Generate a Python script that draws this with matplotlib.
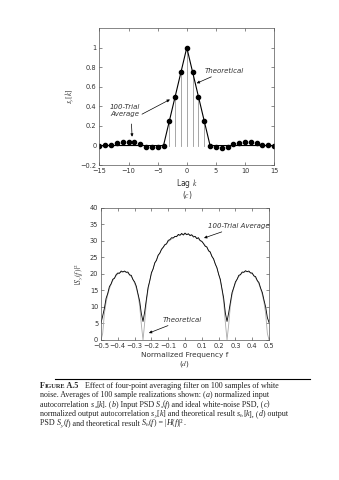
import numpy as np
import matplotlib.pyplot as plt

# (c) normalized output autocorrelation
lags = list(range(-15, 16))
avg_acf = [0.0, 0.005, 0.01, 0.025, 0.04, 0.04, 0.035, 0.015, -0.015, -0.02, -0.02,
           0.0, 0.25, 0.5, 0.75, 1.0, 0.75, 0.5, 0.25, -0.005,
           -0.015, -0.025, -0.015, 0.015, 0.03, 0.035, 0.035, 0.025, 0.01, 0.005, 0.0]
theo_acf = [0, 0, 0, 0, 0, 0, 0, 0, 0, 0, 0, 0, 0.25, 0.5, 0.75, 1.0, 0.75, 0.5, 0.25,
            0, 0, 0, 0, 0, 0, 0, 0, 0, 0, 0, 0]
stem_lags = [-3, -2, -1, 0, 1, 2, 3]

# (d) output PSD, positive half f = 0 .. 0.5 step 0.01
theo_half = [32.1, 32.06, 32.0, 31.9, 31.7, 31.5, 31.3, 31.0, 30.6, 30.2, 29.8,
             29.3, 28.7, 28.0, 27.3, 26.4, 25.5, 24.4, 23.2, 21.7, 20.0,
             17.9, 15.2, 11.5, 5.3, 0.0, 4.7, 10.4, 13.6, 15.7, 17.2,
             18.4, 19.2, 19.8, 20.3, 20.6, 20.7, 20.7, 20.6, 20.4, 20.0,
             19.5, 18.8, 18.0, 16.9, 15.5, 13.7, 11.4, 8.0, 2.0, 0.0]
freqs = [round(-0.5 + 0.01 * i, 2) for i in range(101)]
theo_psd = theo_half[:0:-1] + theo_half
avg_psd = [5.2, 7.3, 9.6, 12.6, 14.1, 16.2, 17.0, 18.4, 18.7, 19.8, 20.3,
           20.2, 20.9, 20.6, 20.9, 20.5, 20.6, 19.7, 19.6, 18.3, 17.6,
           16.3, 14.0, 11.8, 8.0, 5.6, 8.6, 12.3, 15.9, 17.9, 20.4,
           21.5, 23.4, 24.1, 25.7, 26.3, 27.5, 28.1, 28.9, 29.1, 30.2,
           30.4, 31.0, 30.9, 31.4, 31.3, 32.0, 31.7, 32.3, 31.8, 32.4,
           31.9, 32.2, 31.6, 31.9, 31.2, 31.4, 30.7, 31.0, 30.1, 29.9,
           29.2, 28.4, 28.2, 27.0, 26.7, 25.3, 24.6, 23.0, 21.9, 19.9,
           18.4, 15.5, 12.7, 8.2, 5.6, 8.3, 11.4, 14.4, 15.9, 17.6,
           18.4, 19.6, 19.8, 20.6, 20.5, 21.0, 20.7, 20.9, 20.3, 20.3,
           19.4, 19.2, 18.0, 17.4, 15.7, 14.4, 12.1, 10.0, 6.8, 5.3]

# caption pieces: (text, kind) with kind n=normal, i=italic, s=subscript, c=small caps, b=bold
caption = [
    [("F", "b"), ("IGURE", "c"), (" A.5", "b"),
     ("   Effect of four-point averaging filter on 100 samples of white", "n")],
    [("noise. Averages of 100 sample realizations shown: (", "n"), ("a", "i"),
     (") normalized input", "n")],
    [("autocorrelation ", "n"), ("s", "i"), ("x", "s"), ("[", "n"), ("k", "i"),
     ("]. (", "n"), ("b", "i"), (") Input PSD ", "n"), ("S", "i"), ("x", "s"),
     ("(", "n"), ("f", "i"), (") and ideal white-noise PSD, (", "n"), ("c", "i"), (")", "n")],
    [("normalized output autocorrelation ", "n"), ("s", "i"), ("y", "s"), ("[", "n"),
     ("k", "i"), ("] and theoretical result ", "n"), ("s", "i"), ("h", "s"), ("[", "n"),
     ("k", "i"), ("], (", "n"), ("d", "i"), (") output", "n")],
    [("PSD ", "n"), ("S", "i"), ("y", "s"), ("(", "n"), ("f", "i"),
     (") and theoretical result ", "n"), ("S", "i"), ("h", "s"), ("(", "n"), ("f", "i"),
     (") = |", "n"), ("H", "i"), ("(", "n"), ("f", "i"), (")|²", "n"), (".", "n")],
]

plt.rcParams['font.family'] = 'DejaVu Sans'
plt.rcParams['mathtext.fontset'] = 'stix'

fig = plt.figure(figsize=(3.39, 4.8), dpi=100)
tick_kw = dict(direction='in', top=True, right=True, labelsize=4.8, length=2,
               width=0.4, colors='#333333', pad=2)

ax1 = fig.add_axes([0.2935, 0.656, 0.515, 0.2856])
for k in stem_lags:
    ax1.plot([k, k], [0, theo_acf[lags.index(k)]], color='#999999', lw=0.6)
ax1.plot(lags, theo_acf, color='black', lw=0.8)
ax1.plot(lags, avg_acf, 'o', color='black', ms=3)
ax1.set_xlim(-15, 15)
ax1.set_ylim(-0.2, 1.2)
ax1.set_xticks([-15, -10, -5, 0, 5, 10, 15])
ax1.set_yticks([-0.2, 0, 0.2, 0.4, 0.6, 0.8, 1])
ax1.set_yticklabels(['\u22120.2', '0', '0.2', '0.4', '0.6', '0.8', '1'])
ax1.tick_params(**tick_kw)
for s in ax1.spines.values():
    s.set_linewidth(0.5)
    s.set_color('#555555')
ax1.set_ylabel(r'$s_y[k]$', fontsize=5.5, labelpad=3, color='#333333')
ax1.set_xlabel(r'Lag $k$', fontsize=5.5, labelpad=2, color='#333333')
ax1.annotate('Theoretical', xy=(1.7, 0.636), xytext=(3.1, 0.73), fontsize=5,
             style='italic', color='#333333', ha='left', va='bottom',
             arrowprops=dict(arrowstyle='-|>', lw=0.5, color='black',
                             mutation_scale=4, shrinkA=0, shrinkB=0))
ax1.text(-10.6, 0.36, '100-Trial\nAverage', fontsize=5, style='italic',
         color='#333333', ha='center', va='center', linespacing=1.3)
ax1.annotate('', xy=(-2.9, 0.47), xytext=(-7.7, 0.32),
             arrowprops=dict(arrowstyle='-|>', lw=0.5, color='black',
                             mutation_scale=4, shrinkA=0, shrinkB=0))
ax1.annotate('', xy=(-9.4, 0.09), xytext=(-9.5, 0.22),
             arrowprops=dict(arrowstyle='-|>', lw=0.5, color='black',
                             mutation_scale=4, shrinkA=0, shrinkB=0))
fig.text(0.5525, 1 - 195 / 480, '($c$)', fontsize=5.5, ha='center', va='center',
         color='#333333')

ax2 = fig.add_axes([0.298, 0.2917, 0.4956, 0.275])
ax2.plot(freqs, theo_psd, color='#aaaaaa', lw=0.6)
ax2.plot(freqs, avg_psd, color='black', lw=0.6)
ax2.set_xlim(-0.5, 0.5)
ax2.set_ylim(0, 40)
xt = [-0.5, -0.4, -0.3, -0.2, -0.1, 0, 0.1, 0.2, 0.3, 0.4, 0.5]
ax2.set_xticks(xt)
ax2.set_xticklabels([('\u2212' + str(abs(v))) if v < 0 else ('0' if v == 0 else str(v)) for v in xt])
ax2.set_yticks(range(0, 41, 5))
ax2.tick_params(**tick_kw)
for s in ax2.spines.values():
    s.set_linewidth(0.5)
    s.set_color('#555555')
ax2.set_ylabel(r'$|S_y(f\,)|^2$', fontsize=5.5, labelpad=3, color='#333333')
ax2.set_xlabel('Normalized Frequency f', fontsize=5.3, labelpad=2.5, color='#333333')
ax2.annotate('100-Trial Average', xy=(0.113, 30.9), xytext=(0.135, 33.6), fontsize=5,
             style='italic', color='#333333', ha='left', va='bottom',
             arrowprops=dict(arrowstyle='-|>', lw=0.5, color='black',
                             mutation_scale=4, shrinkA=0, shrinkB=0))
ax2.annotate('Theoretical', xy=(-0.215, 2.1), xytext=(-0.13, 5.2), fontsize=5,
             style='italic', color='#333333', ha='left', va='bottom',
             arrowprops=dict(arrowstyle='-|>', lw=0.5, color='black',
                             mutation_scale=4, shrinkA=0, shrinkB=0))
fig.text(0.545, 1 - 364 / 480, '($d$)', fontsize=5.3, ha='center', va='center',
         color='#333333')

# caption
fig.add_artist(plt.Line2D([55 / 339, 310 / 339], [1 - 379 / 480] * 2,
                          transform=fig.transFigure, color='black', lw=0.8))
renderer = fig.canvas.get_renderer()
fs = 5.8
for i, line in enumerate(caption):
    x = 40.0
    y = 388 + 9.3 * i
    for txt, kind in line:
        size = fs * 0.68 if kind == "s" else (fs * 0.8 if kind == "c" else fs)
        dy = 1.3 if kind == "s" else 0
        t = fig.text(x / 339, 1 - (y + dy) / 480, txt, fontsize=size,
                     family='Liberation Serif', va='baseline', ha='left',
                     style='italic' if kind in ("i", "s") else 'normal',
                     weight='bold' if kind in ("b", "c") else 'normal',
                     color='#222222')
        x += t.get_window_extent(renderer=renderer).width

fig.savefig('out.png', dpi=100)
